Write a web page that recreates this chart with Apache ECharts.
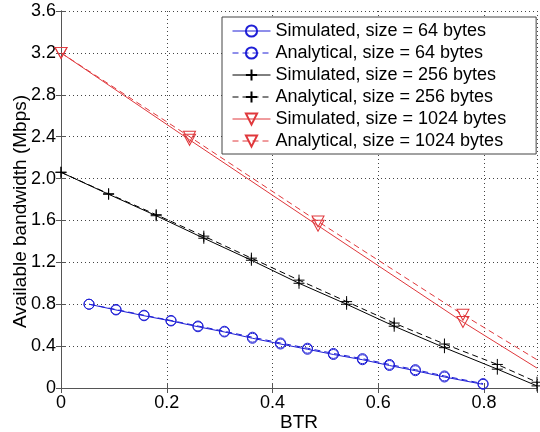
<!DOCTYPE html>
<html>
<head>
<meta charset="utf-8">
<script src="https://cdn.jsdelivr.net/npm/echarts@6/dist/echarts.min.js"></script>
<style>
html,body{margin:0;padding:0;background:#fff;}
#chart{width:540px;height:432px;}
</style>
</head>
<body>
<div id="chart"></div>
<script>
// ---- data ----
const xTicks = [0, 0.2, 0.4, 0.6, 0.8];
const yTicks = [0, 0.4, 0.8, 1.2, 1.6, 2.0, 2.4, 2.8, 3.2, 3.6];

const btr64 = [0.053, 0.104, 0.157, 0.208, 0.259, 0.309, 0.362, 0.415, 0.466, 0.515, 0.570, 0.621, 0.670, 0.725, 0.798];
const sim64 = [0.80, 0.745, 0.69, 0.64, 0.585, 0.535, 0.475, 0.42, 0.37, 0.32, 0.27, 0.215, 0.165, 0.105, 0.035];
const ana64 = [0.80, 0.75, 0.695, 0.645, 0.592, 0.542, 0.485, 0.43, 0.38, 0.33, 0.28, 0.225, 0.175, 0.115, 0.042];

const btr256 = [0, 0.09, 0.18, 0.27, 0.36, 0.45, 0.54, 0.63, 0.725, 0.825, 0.90];
const sim256 = [2.06, 1.85, 1.645, 1.43, 1.22, 1.00, 0.80, 0.59, 0.385, 0.18, 0.02];
const ana256 = [2.06, 1.855, 1.655, 1.45, 1.24, 1.03, 0.825, 0.62, 0.42, 0.225, 0.055];

const btr1024 = [0, 0.243, 0.486, 0.76, 0.90];
const sim1024 = [3.20, 2.37, 1.55, 0.63, 0.19];
const ana1024 = [3.20, 2.40, 1.59, 0.70, 0.27];
// last 1024-byte point is a line end without a marker
const markerShown1024 = [true, true, true, true, false];

const names = [
  'Simulated, size = 64 bytes',
  'Analytical, size = 64 bytes',
  'Simulated, size = 256 bytes',
  'Analytical, size = 256 bytes',
  'Simulated, size = 1024 bytes',
  'Analytical, size = 1024 bytes'
];

// ---- build ----
const BLUE = '#1f1fd6', BLACK = '#000000', RED = '#e0383c';
const FONT = 'Liberation Sans, Arial, Helvetica, sans-serif';
const PLUS = 'path://M0,5L10,5M5,0L5,10';

function pairs(xs, ys, shown) {
  return xs.map((x, i) => {
    const item = { value: [x, ys[i]] };
    if (shown && !shown[i]) item.symbol = 'none';
    return item;
  });
}
function mk(name, xs, ys, color, dashed, symbol, size, rotate, shown) {
  return {
    name: name,
    type: 'line',
    data: pairs(xs, ys, shown),
    symbol: symbol,
    symbolSize: size,
    symbolRotate: rotate || 0,
    showAllSymbol: true,
    clip: false,
    lineStyle: { color: color, width: 1, type: dashed ? [6, 4] : 'solid' },
    itemStyle: { color: 'rgba(0,0,0,0)', borderColor: color, borderWidth: 1 },
    emphasis: { disabled: true },
    z: 2
  };
}

const series = [
  mk(names[0], btr64, sim64, BLUE, false, 'circle', 10),
  mk(names[1], btr64, ana64, BLUE, true, 'circle', 10),
  mk(names[2], btr256, sim256, BLACK, false, PLUS, 11),
  mk(names[3], btr256, ana256, BLACK, true, PLUS, 11),
  mk(names[4], btr1024, sim1024, RED, false, 'triangle', [12, 11], 180, markerShown1024),
  mk(names[5], btr1024, ana1024, RED, true, 'triangle', [12, 11], 180, markerShown1024)
];

const gridLine = { show: true, lineStyle: { color: '#444', type: [1, 3], width: 1 } };
const axisLineStyle = { show: true, lineStyle: { color: '#555', width: 1 } };
const tickStyle = { show: true, inside: true, length: 5, lineStyle: { color: '#555' } };
const fmt = v => (v === 0 ? '0' : v.toFixed(1));

const option = {
  animation: false,
  backgroundColor: '#fff',
  grid: { left: 61, right: 3, top: 11, bottom: 44, containLabel: false, outerBoundsMode: 'none' },
  xAxis: [{
    type: 'value', min: 0, max: 0.9, interval: 0.2,
    name: 'BTR', nameLocation: 'middle', nameGap: 25, nameMoveOverlap: false,
    nameTextStyle: { fontFamily: FONT, fontSize: 19, color: '#000' },
    axisLine: axisLineStyle, axisTick: tickStyle, splitLine: gridLine,
    axisLabel: { fontFamily: FONT, fontSize: 18, color: '#000', margin: 6, formatter: fmt, showMaxLabel: false }
  }, {
    type: 'value', position: 'top', min: 0, max: 0.9, interval: 0.2,
    axisLine: axisLineStyle, axisTick: tickStyle, splitLine: { show: false },
    axisLabel: { show: false }
  }],
  yAxis: [{
    type: 'value', min: 0, max: 3.6, interval: 0.4,
    name: 'Available bandwidth (Mbps)', nameLocation: 'middle', nameGap: 31, nameMoveOverlap: false,
    nameTextStyle: { fontFamily: FONT, fontSize: 19, color: '#000', padding: [0, 24, 0, 0] },
    axisLine: axisLineStyle, axisTick: tickStyle, splitLine: gridLine,
    axisLabel: { fontFamily: FONT, fontSize: 18, color: '#000', margin: 5, formatter: fmt }
  }, {
    type: 'value', position: 'right', min: 0, max: 3.6, interval: 0.4,
    axisLine: axisLineStyle, axisTick: tickStyle, splitLine: { show: false },
    axisLabel: { show: false }
  }],
  legend: {
    data: names,
    orient: 'vertical',
    left: 222, top: 17,
    itemWidth: 38, itemHeight: 14, itemGap: 0,
    padding: [3, 30, 2, 10],
    backgroundColor: '#fff',
    borderColor: '#444', borderWidth: 1, borderRadius: 0,
    lineStyle: { width: 1 },
    textStyle: { fontFamily: FONT, fontSize: 18, color: '#000', lineHeight: 22 },
    selectedMode: false
  },
  series: series
};

const chart = echarts.init(document.getElementById('chart'), null, { renderer: 'canvas' });
chart.setOption(option);
</script>
</body>
</html>
